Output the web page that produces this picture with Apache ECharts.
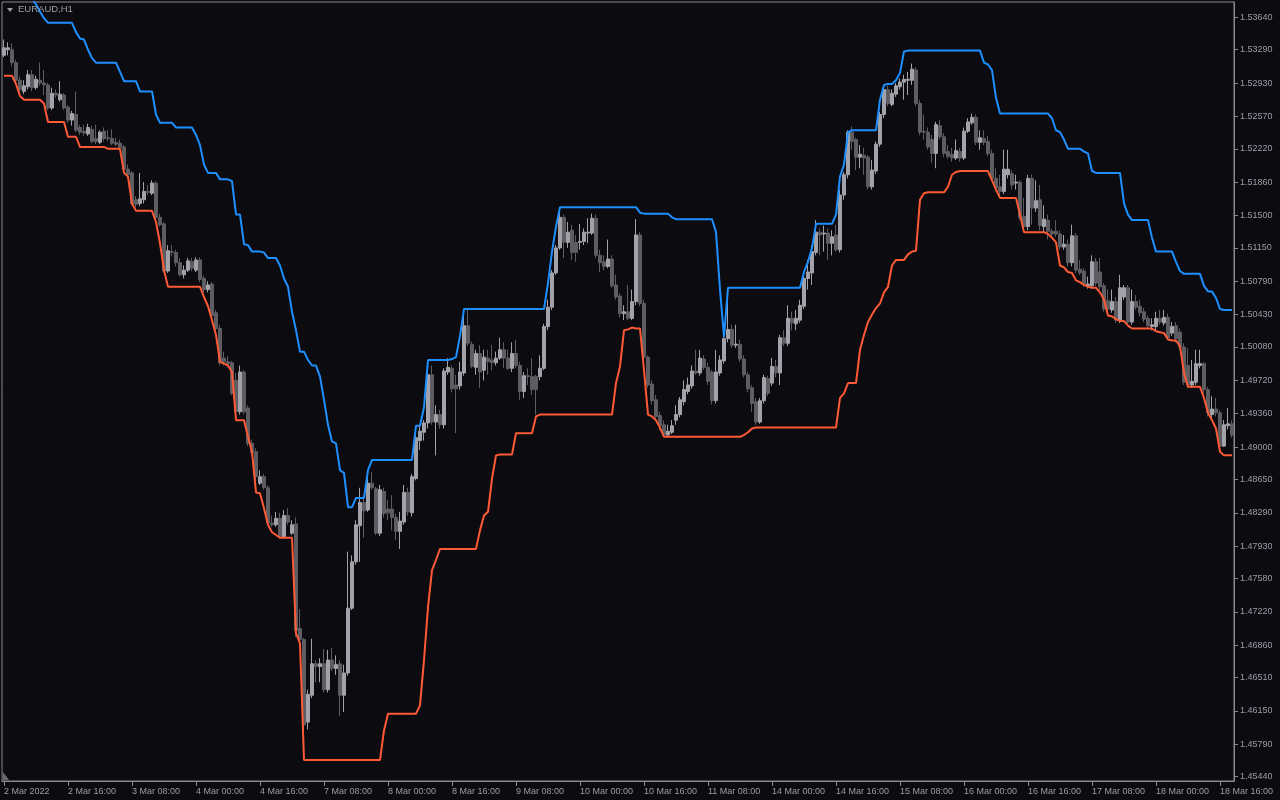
<!DOCTYPE html>
<html>
<head>
<meta charset="utf-8">
<script src="https://cdn.jsdelivr.net/npm/echarts@6/dist/echarts.min.js"></script>
<style>
html,body{margin:0;padding:0;background:#0b0b10;}
#chart{width:1280px;height:800px;}
</style>
</head>
<body>
<div id="chart"></div>
<script>
// ---- DATA ----
const symbolTitle = 'EURAUD,H1';

// x-axis tick labels, one every 16 hourly bars
const timeTickLabels = ['2 Mar 2022','2 Mar 16:00','3 Mar 08:00','4 Mar 00:00','4 Mar 16:00','7 Mar 08:00','8 Mar 00:00','8 Mar 16:00','9 Mar 08:00','10 Mar 00:00','10 Mar 16:00','11 Mar 08:00','14 Mar 00:00','14 Mar 16:00','15 Mar 08:00','16 Mar 00:00','16 Mar 16:00','17 Mar 08:00','18 Mar 00:00','18 Mar 16:00'];

// price-axis labels
const priceTicks = [1.45440,1.45790,1.46150,1.46510,1.46860,1.47220,1.47580,1.47930,1.48290,1.48650,1.49000,1.49360,1.49720,1.50080,1.50430,1.50790,1.51150,1.51500,1.51860,1.52220,1.52570,1.52930,1.53290,1.53640];

// H1 candles: [open, close, low, high]
const candles = [
[1.5323,1.5331,1.5321,1.5340],[1.5329,1.5331,1.5323,1.5337],[1.5329,1.5315,1.5311,1.5336],[1.5315,1.5296,1.5293,1.5318],[1.5296,1.5286,1.5280,1.5300],
[1.5284,1.5290,1.5281,1.5296],[1.5289,1.5302,1.5286,1.5307],[1.5302,1.5288,1.5284,1.5307],[1.5288,1.5297,1.5286,1.5301],[1.5296,1.5293,1.5290,1.5315],
[1.5293,1.5291,1.5280,1.5307],[1.5291,1.5266,1.5264,1.5293],[1.5266,1.5282,1.5264,1.5288],[1.5282,1.5280,1.5277,1.5286],[1.5275,1.5281,1.5273,1.5295],
[1.5280,1.5266,1.5264,1.5282],[1.5267,1.5253,1.5250,1.5269],[1.5253,1.5260,1.5247,1.5263],[1.5259,1.5242,1.5240,1.5284],[1.5245,1.5240,1.5237,1.5248],
[1.5241,1.5239,1.5236,1.5248],[1.5238,1.5245,1.5236,1.5249],[1.5243,1.5230,1.5228,1.5247],[1.5233,1.5230,1.5227,1.5248],[1.5229,1.5240,1.5227,1.5242],
[1.5241,1.5233,1.5230,1.5245],[1.5234,1.5233,1.5230,1.5242],[1.5233,1.5228,1.5226,1.5243],[1.5229,1.5227,1.5225,1.5234],[1.5228,1.5223,1.5222,1.5232],
[1.5224,1.5200,1.5198,1.5226],[1.5200,1.5194,1.5190,1.5205],[1.5196,1.5163,1.5161,1.5198],[1.5167,1.5162,1.5159,1.5171],[1.5163,1.5168,1.5160,1.5196],
[1.5167,1.5176,1.5163,1.5186],[1.5176,1.5175,1.5172,1.5183],[1.5174,1.5185,1.5172,1.5188],[1.5185,1.5148,1.5146,1.5187],[1.5148,1.5140,1.5138,1.5152],
[1.5141,1.5090,1.5088,1.5143],[1.5090,1.5112,1.5088,1.5118],[1.5111,1.5110,1.5106,1.5118],[1.5110,1.5099,1.5095,1.5113],[1.5099,1.5086,1.5084,1.5104],
[1.5086,1.5091,1.5082,1.5096],[1.5091,1.5101,1.5089,1.5104],[1.5100,1.5093,1.5090,1.5104],[1.5091,1.5102,1.5089,1.5105],[1.5102,1.5081,1.5078,1.5105],
[1.5082,1.5070,1.5067,1.5085],[1.5070,1.5075,1.5067,1.5079],[1.5076,1.5042,1.5040,1.5078],[1.5045,1.5028,1.5026,1.5048],[1.5028,1.4991,1.4988,1.5032],
[1.4996,1.4992,1.4988,1.5003],[1.4992,1.4990,1.4986,1.4998],[1.4991,1.4958,1.4956,1.4993],[1.4972,1.4938,1.4935,1.4980],[1.4938,1.4981,1.4935,1.4988],
[1.4981,1.4938,1.4935,1.4983],[1.4942,1.4904,1.4901,1.4945],[1.4904,1.4894,1.4890,1.4908],[1.4895,1.4868,1.4864,1.4899],[1.4861,1.4868,1.4859,1.4875],
[1.4868,1.4856,1.4854,1.4871],[1.4856,1.4818,1.4816,1.4859],[1.4818,1.4816,1.4814,1.4826],[1.4816,1.4823,1.4814,1.4830],[1.4823,1.4803,1.4801,1.4829],
[1.4803,1.4826,1.4801,1.4832],[1.4826,1.4819,1.4816,1.4834],[1.4807,1.4816,1.4805,1.4821],[1.4817,1.4702,1.4695,1.4824],[1.4704,1.4692,1.4689,1.4725],
[1.4692,1.4600,1.4595,1.4694],[1.4603,1.4633,1.4595,1.4638],[1.4632,1.4666,1.4629,1.4693],[1.4666,1.4663,1.4646,1.4670],[1.4663,1.4666,1.4646,1.4672],
[1.4666,1.4638,1.4635,1.4682],[1.4638,1.4670,1.4635,1.4681],[1.4670,1.4661,1.4658,1.4683],[1.4661,1.4665,1.4654,1.4675],[1.4666,1.4632,1.4610,1.4670],
[1.4632,1.4656,1.4614,1.4665],[1.4656,1.4726,1.4653,1.4787],[1.4726,1.4776,1.4724,1.4783],[1.4776,1.4816,1.4773,1.4821],[1.4815,1.4840,1.4776,1.4856],
[1.4840,1.4831,1.4802,1.4848],[1.4832,1.4861,1.4830,1.4875],[1.4861,1.4856,1.4854,1.4873],[1.4855,1.4807,1.4805,1.4857],[1.4807,1.4854,1.4804,1.4859],
[1.4852,1.4828,1.4824,1.4856],[1.4833,1.4829,1.4821,1.4843],[1.4833,1.4824,1.4810,1.4848],[1.4824,1.4809,1.4800,1.4828],[1.4809,1.4820,1.4790,1.4830],
[1.4819,1.4851,1.4816,1.4859],[1.4851,1.4830,1.4826,1.4856],[1.4829,1.4868,1.4825,1.4871],[1.4866,1.4910,1.4864,1.4913],[1.4907,1.4917,1.4897,1.4924],
[1.4916,1.4926,1.4907,1.4929],[1.4926,1.4978,1.4920,1.4981],[1.4978,1.4927,1.4924,1.4988],[1.4927,1.4935,1.4891,1.4945],[1.4935,1.4924,1.4920,1.4940],
[1.4924,1.4982,1.4920,1.4985],[1.4981,1.4986,1.4978,1.4996],[1.4985,1.4963,1.4959,1.4988],[1.4967,1.4963,1.4915,1.4978],[1.4966,1.4981,1.4962,1.4992],
[1.4980,1.5031,1.4977,1.5047],[1.5031,1.5012,1.5009,1.5048],[1.5011,1.4987,1.4985,1.5014],[1.4986,1.5001,1.4978,1.5005],[1.5001,1.4981,1.4964,1.5010],
[1.4983,1.4997,1.4972,1.5005],[1.4996,1.4992,1.4978,1.5005],[1.4994,1.4991,1.4983,1.5010],[1.4991,1.4996,1.4988,1.5003],[1.4996,1.5005,1.4994,1.5018],
[1.5005,1.4996,1.4985,1.5013],[1.4996,1.4985,1.4983,1.5005],[1.4985,1.5001,1.4981,1.5013],[1.5001,1.4988,1.4985,1.5016],[1.4988,1.4960,1.4951,1.4992],
[1.4960,1.4977,1.4953,1.4981],[1.4977,1.4976,1.4967,1.4985],[1.4976,1.4962,1.4956,1.4996],[1.4976,1.4962,1.4935,1.4978],[1.4976,1.4985,1.4972,1.4999],
[1.4985,1.5030,1.4983,1.5033],[1.5030,1.5051,1.5026,1.5059],[1.5051,1.5088,1.5048,1.5091],[1.5088,1.5115,1.5086,1.5118],[1.5115,1.5148,1.5113,1.5154],
[1.5148,1.5121,1.5104,1.5151],[1.5121,1.5132,1.5115,1.5143],[1.5134,1.5110,1.5102,1.5140],[1.5121,1.5110,1.5100,1.5129],[1.5121,1.5122,1.5113,1.5141],
[1.5122,1.5132,1.5118,1.5136],[1.5131,1.5132,1.5120,1.5147],[1.5131,1.5147,1.5129,1.5152],[1.5147,1.5107,1.5104,1.5151],[1.5107,1.5099,1.5089,1.5113],
[1.5100,1.5095,1.5091,1.5107],[1.5095,1.5103,1.5093,1.5124],[1.5103,1.5074,1.5072,1.5107],[1.5075,1.5062,1.5059,1.5086],[1.5063,1.5044,1.5040,1.5066],
[1.5044,1.5046,1.5037,1.5053],[1.5046,1.5039,1.5037,1.5075],[1.5039,1.5057,1.5037,1.5070],[1.5057,1.5129,1.5053,1.5146],[1.5129,1.5055,1.5052,1.5132],
[1.5055,1.4997,1.4994,1.5059],[1.4997,1.4967,1.4964,1.4999],[1.4968,1.4950,1.4946,1.4972],[1.4951,1.4933,1.4931,1.4956],[1.4934,1.4923,1.4918,1.4938],
[1.4924,1.4913,1.4911,1.4929],[1.4913,1.4917,1.4911,1.4924],[1.4916,1.4923,1.4914,1.4929],[1.4929,1.4935,1.4924,1.4945],[1.4935,1.4951,1.4932,1.4954],
[1.4949,1.4962,1.4945,1.4972],[1.4960,1.4967,1.4957,1.4975],[1.4966,1.4982,1.4963,1.4988],[1.4982,1.4980,1.4978,1.5005],[1.4980,1.4996,1.4977,1.5005],
[1.4995,1.4986,1.4983,1.4999],[1.4986,1.4971,1.4967,1.4991],[1.4981,1.4950,1.4946,1.4983],[1.4950,1.4981,1.4947,1.5005],[1.4980,1.4994,1.4977,1.4999],
[1.4993,1.5017,1.4990,1.5019],[1.5017,1.5027,1.5013,1.5061],[1.5027,1.5010,1.5007,1.5032],[1.5010,1.5011,1.5007,1.5032],[1.5011,1.4995,1.4992,1.5016],
[1.4995,1.4978,1.4975,1.4999],[1.4978,1.4963,1.4959,1.4981],[1.4964,1.4947,1.4938,1.4967],[1.4949,1.4927,1.4924,1.4953],[1.4927,1.4950,1.4925,1.4953],
[1.4950,1.4975,1.4947,1.4978],[1.4974,1.4958,1.4955,1.4977],[1.4969,1.4987,1.4966,1.4996],[1.4987,1.4980,1.4975,1.4994],[1.4980,1.5018,1.4967,1.5021],
[1.5018,1.5012,1.5009,1.5026],[1.5012,1.5039,1.5009,1.5053],[1.5039,1.5034,1.5026,1.5046],[1.5033,1.5039,1.5026,1.5048],[1.5037,1.5053,1.5034,1.5059],
[1.5052,1.5082,1.5049,1.5086],[1.5082,1.5089,1.5070,1.5102],[1.5088,1.5111,1.5075,1.5118],[1.5110,1.5132,1.5107,1.5145],[1.5132,1.5129,1.5107,1.5136],
[1.5130,1.5131,1.5111,1.5139],[1.5131,1.5120,1.5102,1.5136],[1.5120,1.5127,1.5107,1.5134],[1.5129,1.5113,1.5111,1.5140],[1.5113,1.5172,1.5110,1.5178],
[1.5172,1.5194,1.5167,1.5197],[1.5194,1.5240,1.5190,1.5242],[1.5240,1.5230,1.5221,1.5246],[1.5232,1.5213,1.5199,1.5234],[1.5213,1.5216,1.5201,1.5226],
[1.5215,1.5212,1.5194,1.5223],[1.5213,1.5181,1.5178,1.5215],[1.5181,1.5199,1.5178,1.5210],[1.5198,1.5227,1.5195,1.5230],[1.5227,1.5259,1.5224,1.5262],
[1.5259,1.5286,1.5255,1.5289],[1.5286,1.5271,1.5268,1.5290],[1.5270,1.5282,1.5268,1.5286],[1.5281,1.5290,1.5278,1.5293],[1.5289,1.5294,1.5286,1.5298],
[1.5294,1.5297,1.5275,1.5302],[1.5296,1.5297,1.5280,1.5305],[1.5296,1.5308,1.5291,1.5314],[1.5307,1.5271,1.5268,1.5310],[1.5271,1.5240,1.5237,1.5275],
[1.5241,1.5240,1.5232,1.5259],[1.5240,1.5224,1.5221,1.5245],[1.5232,1.5217,1.5207,1.5237],[1.5217,1.5248,1.5201,1.5251],[1.5247,1.5235,1.5232,1.5253],
[1.5235,1.5217,1.5213,1.5239],[1.5219,1.5214,1.5211,1.5226],[1.5216,1.5212,1.5208,1.5223],[1.5212,1.5220,1.5210,1.5232],[1.5219,1.5212,1.5208,1.5223],
[1.5212,1.5241,1.5210,1.5245],[1.5241,1.5251,1.5239,1.5255],[1.5250,1.5256,1.5248,1.5260],[1.5256,1.5229,1.5226,1.5259],[1.5229,1.5234,1.5221,1.5242],
[1.5233,1.5229,1.5226,1.5242],[1.5230,1.5217,1.5214,1.5236],[1.5217,1.5190,1.5188,1.5221],[1.5190,1.5180,1.5176,1.5201],[1.5181,1.5176,1.5169,1.5194],
[1.5176,1.5200,1.5173,1.5221],[1.5194,1.5200,1.5190,1.5221],[1.5195,1.5183,1.5178,1.5199],[1.5185,1.5186,1.5178,1.5194],[1.5186,1.5148,1.5145,1.5188],
[1.5149,1.5138,1.5134,1.5169],[1.5138,1.5190,1.5134,1.5194],[1.5190,1.5158,1.5140,1.5194],[1.5158,1.5166,1.5154,1.5188],[1.5167,1.5139,1.5134,1.5183],
[1.5138,1.5146,1.5132,1.5161],[1.5145,1.5133,1.5124,1.5151],[1.5133,1.5130,1.5127,1.5136],[1.5133,1.5130,1.5127,1.5145],[1.5130,1.5116,1.5113,1.5134],
[1.5116,1.5119,1.5113,1.5129],[1.5119,1.5099,1.5095,1.5124],[1.5099,1.5128,1.5095,1.5140],[1.5128,1.5091,1.5088,1.5131],[1.5092,1.5088,1.5086,1.5102],
[1.5090,1.5076,1.5073,1.5093],[1.5074,1.5076,1.5071,1.5084],[1.5074,1.5100,1.5071,1.5107],[1.5100,1.5077,1.5074,1.5104],[1.5089,1.5073,1.5070,1.5104],
[1.5074,1.5049,1.5046,1.5077],[1.5058,1.5049,1.5046,1.5070],[1.5048,1.5057,1.5045,1.5070],[1.5057,1.5037,1.5034,1.5062],[1.5037,1.5072,1.5034,1.5086],
[1.5062,1.5072,1.5059,1.5075],[1.5072,1.5035,1.5032,1.5075],[1.5035,1.5057,1.5032,1.5070],[1.5057,1.5051,1.5048,1.5064],[1.5052,1.5045,1.5041,1.5059],
[1.5046,1.5038,1.5035,1.5050],[1.5039,1.5031,1.5028,1.5042],[1.5030,1.5032,1.5026,1.5039],[1.5030,1.5039,1.5026,1.5046],[1.5039,1.5035,1.5032,1.5048],
[1.5034,1.5040,1.5031,1.5048],[1.5040,1.5018,1.5016,1.5044],[1.5023,1.5030,1.5020,1.5035],[1.5031,1.5017,1.5013,1.5035],[1.5024,1.5008,1.5005,1.5028],
[1.5008,1.4970,1.4967,1.5012],[1.4988,1.4967,1.4964,1.5007],[1.4967,1.4971,1.4964,1.4994],[1.4970,1.4990,1.4967,1.5005],[1.4988,1.4990,1.4985,1.5005],
[1.4990,1.4962,1.4958,1.4992],[1.4962,1.4937,1.4933,1.4965],[1.4935,1.4941,1.4931,1.4955],[1.4941,1.4937,1.4933,1.4953],[1.4937,1.4901,1.4899,1.4940],
[1.4901,1.4924,1.4900,1.4929],[1.4923,1.4925,1.4919,1.4942],[1.4925,1.4913,1.4910,1.4929]
];

// upper channel line (blue)
const upperBand = [
1.5402,1.5399,1.5396,1.5394,1.5391,1.5389,1.5387,1.5384,1.5378,1.5370,
1.5363,1.5358,1.5358,1.5358,1.5358,1.5358,1.5358,1.5358,1.5348,1.5341,
1.5340,1.5329,1.5320,1.5315,1.5315,1.5315,1.5315,1.5315,1.5315,1.5305,
1.5295,1.5295,1.5295,1.5295,1.5284,1.5284,1.5284,1.5284,1.5259,1.5250,
1.5250,1.5250,1.5250,1.5245,1.5245,1.5245,1.5245,1.5245,1.5237,1.5226,
1.5205,1.5196,1.5196,1.5196,1.5189,1.5189,1.5189,1.5187,1.5151,1.5151,
1.5119,1.5118,1.5111,1.5111,1.5111,1.5110,1.5104,1.5104,1.5104,1.5096,
1.5082,1.5073,1.5046,1.5026,1.5003,1.5003,1.4994,1.4988,1.4988,1.4976,
1.4951,1.4924,1.4906,1.4904,1.4875,1.4872,1.4835,1.4835,1.4845,1.4845,
1.4845,1.4875,1.4886,1.4886,1.4886,1.4886,1.4886,1.4886,1.4886,1.4886,
1.4886,1.4886,1.4886,1.4923,1.4923,1.4943,1.4994,1.4994,1.4994,1.4994,
1.4994,1.4994,1.4995,1.4997,1.5020,1.5049,1.5049,1.5049,1.5049,1.5049,
1.5049,1.5049,1.5049,1.5049,1.5049,1.5049,1.5049,1.5049,1.5049,1.5049,
1.5049,1.5049,1.5049,1.5049,1.5049,1.5049,1.5077,1.5111,1.5138,1.5159,
1.5159,1.5159,1.5159,1.5159,1.5159,1.5159,1.5159,1.5159,1.5159,1.5159,
1.5159,1.5159,1.5159,1.5159,1.5159,1.5159,1.5159,1.5159,1.5159,1.5153,
1.5152,1.5152,1.5152,1.5152,1.5152,1.5152,1.5152,1.5148,1.5146,1.5146,
1.5146,1.5146,1.5146,1.5146,1.5146,1.5146,1.5146,1.5146,1.5132,1.5070,
1.5019,1.5072,1.5072,1.5072,1.5072,1.5072,1.5072,1.5072,1.5072,1.5072,
1.5072,1.5072,1.5072,1.5072,1.5072,1.5072,1.5072,1.5072,1.5072,1.5072,
1.5089,1.5100,1.5115,1.5141,1.5141,1.5141,1.5141,1.5141,1.5151,1.5192,
1.5205,1.5240,1.5242,1.5242,1.5242,1.5242,1.5242,1.5242,1.5242,1.5275,
1.5291,1.5292,1.5292,1.5296,1.5304,1.5327,1.5328,1.5328,1.5328,1.5328,
1.5328,1.5328,1.5328,1.5328,1.5328,1.5328,1.5328,1.5328,1.5328,1.5328,
1.5328,1.5328,1.5328,1.5328,1.5328,1.5315,1.5313,1.5307,1.5277,1.5260,
1.5260,1.5260,1.5260,1.5260,1.5260,1.5260,1.5260,1.5260,1.5260,1.5260,
1.5260,1.5260,1.5255,1.5242,1.5240,1.5232,1.5222,1.5222,1.5222,1.5222,
1.5219,1.5217,1.5198,1.5196,1.5196,1.5196,1.5196,1.5196,1.5196,1.5196,
1.5163,1.5151,1.5145,1.5145,1.5145,1.5145,1.5145,1.5126,1.5111,1.5111,
1.5111,1.5111,1.5111,1.5100,1.5090,1.5087,1.5087,1.5087,1.5087,1.5087,
1.5074,1.5068,1.5068,1.5061,1.5049,1.5048,1.5048,1.5048
];

// lower channel line (red)
const lowerBand = [
1.5301,1.5301,1.5301,1.5292,1.5279,1.5275,1.5275,1.5275,1.5275,1.5275,
1.5271,1.5251,1.5251,1.5251,1.5251,1.5251,1.5235,1.5235,1.5235,1.5224,
1.5224,1.5224,1.5224,1.5224,1.5224,1.5224,1.5222,1.5222,1.5222,1.5222,
1.5196,1.5192,1.5163,1.5155,1.5155,1.5155,1.5155,1.5155,1.5143,1.5120,
1.5091,1.5073,1.5073,1.5073,1.5073,1.5073,1.5073,1.5073,1.5073,1.5073,
1.5062,1.5052,1.5037,1.5021,1.4992,1.4990,1.4988,1.4981,1.4929,1.4929,
1.4929,1.4911,1.4895,1.4851,1.4850,1.4834,1.4816,1.4808,1.4805,1.4802,
1.4802,1.4802,1.4802,1.4699,1.4688,1.4562,1.4562,1.4562,1.4562,1.4562,
1.4562,1.4562,1.4562,1.4562,1.4562,1.4562,1.4562,1.4562,1.4562,1.4562,
1.4562,1.4562,1.4562,1.4562,1.4562,1.4594,1.4612,1.4612,1.4612,1.4612,
1.4612,1.4612,1.4612,1.4612,1.4621,1.4670,1.4727,1.4767,1.4778,1.4790,
1.4790,1.4790,1.4790,1.4790,1.4790,1.4790,1.4790,1.4790,1.4790,1.4810,
1.4826,1.4830,1.4866,1.4891,1.4892,1.4892,1.4892,1.4892,1.4915,1.4915,
1.4915,1.4915,1.4915,1.4933,1.4935,1.4935,1.4935,1.4935,1.4935,1.4935,
1.4935,1.4935,1.4935,1.4935,1.4935,1.4935,1.4935,1.4935,1.4935,1.4935,
1.4935,1.4935,1.4935,1.4969,1.4987,1.5026,1.5027,1.5029,1.5028,1.5028,
1.4983,1.4935,1.4933,1.4929,1.4921,1.4911,1.4911,1.4911,1.4911,1.4911,
1.4911,1.4911,1.4911,1.4911,1.4911,1.4911,1.4911,1.4911,1.4911,1.4911,
1.4911,1.4911,1.4911,1.4911,1.4911,1.4913,1.4916,1.4920,1.4921,1.4921,
1.4921,1.4921,1.4921,1.4921,1.4921,1.4921,1.4921,1.4921,1.4921,1.4921,
1.4921,1.4921,1.4921,1.4921,1.4921,1.4921,1.4921,1.4921,1.4921,1.4953,
1.4958,1.4969,1.4969,1.4969,1.5005,1.5021,1.5035,1.5043,1.5050,1.5055,
1.5067,1.5073,1.5096,1.5102,1.5102,1.5102,1.5108,1.5111,1.5112,1.5167,
1.5174,1.5175,1.5175,1.5175,1.5175,1.5175,1.5181,1.5194,1.5197,1.5198,
1.5198,1.5198,1.5198,1.5198,1.5198,1.5198,1.5198,1.5188,1.5178,1.5169,
1.5169,1.5169,1.5169,1.5169,1.5151,1.5132,1.5132,1.5132,1.5132,1.5132,
1.5132,1.5130,1.5126,1.5121,1.5096,1.5094,1.5089,1.5088,1.5080,1.5078,
1.5075,1.5073,1.5072,1.5072,1.5067,1.5059,1.5042,1.5041,1.5038,1.5036,
1.5036,1.5031,1.5028,1.5028,1.5028,1.5028,1.5028,1.5028,1.5025,1.5024,
1.5023,1.5016,1.5015,1.5015,1.5009,1.4980,1.4965,1.4965,1.4965,1.4965,
1.4953,1.4937,1.4929,1.4920,1.4895,1.4891,1.4891,1.4891
];

// ---- CHART ----
const BARS_PER_LABEL = 16;
const barIndex = candles.map((_, i) => i);
const textColor = '#9a9ea8';
const frameColor = '#8a8a90';

const chart = echarts.init(document.getElementById('chart'), null, {renderer: 'canvas'});
chart.setOption({
  animation: false,
  backgroundColor: '#0b0b10',
  textStyle: {fontFamily: 'Liberation Sans, Arial, sans-serif'},
  grid: {left: 2, right: 46, top: 2, bottom: 19, show: true, borderColor: frameColor, borderWidth: 1},
  xAxis: {
    type: 'category',
    data: barIndex,
    boundaryGap: true,
    axisLine: {show: true, lineStyle: {color: frameColor}},
    axisTick: {show: true, alignWithLabel: true, length: 5, lineStyle: {color: frameColor},
      interval: (idx) => idx % BARS_PER_LABEL === 0},
    axisLabel: {
      show: true, color: textColor, fontSize: 9, align: 'left', margin: 6,
      interval: (idx) => idx % BARS_PER_LABEL === 0,
      formatter: (v, idx) => timeTickLabels[idx / BARS_PER_LABEL] || ''
    },
    splitLine: {show: false}
  },
  yAxis: {
    type: 'value',
    position: 'right',
    min: 1.45394,
    max: 1.53805,
    scale: true,
    axisLine: {show: true, lineStyle: {color: frameColor}},
    axisTick: {show: true, length: 4, lineStyle: {color: frameColor}, customValues: priceTicks},
    axisLabel: {show: true, color: textColor, fontSize: 9, margin: 6, customValues: priceTicks,
      formatter: (v) => v.toFixed(5)},
    splitLine: {show: false}
  },
  series: [
    {
      type: 'candlestick',
      data: candles,
      barWidth: 3,
      itemStyle: {
        color: '#a2a2aa', color0: '#5d5d62',
        borderColor: '#a2a2aa', borderColor0: '#5d5d62', borderWidth: 1
      },
      z: 2
    },
    {
      type: 'line', data: upperBand, showSymbol: false, symbol: 'none', clip: true,
      lineStyle: {color: '#1e8fff', width: 2}, z: 3
    },
    {
      type: 'line', data: lowerBand, showSymbol: false, symbol: 'none', clip: true,
      lineStyle: {color: '#ff5a36', width: 2}, z: 3
    }
  ],
  graphic: [
    {type: 'polygon', shape: {points: [[7, 8], [13, 8], [10, 12]]}, style: {fill: '#9a9ea8'}, z: 10},
    {type: 'text', left: 18, top: 4, style: {text: symbolTitle, fill: '#9a9ea8', font: '9.5px "Liberation Sans", Arial, sans-serif'}, z: 10},
    {type: 'polygon', shape: {points: [[3, 772], [3, 780], [9, 780]]}, style: {fill: '#6a6a70'}, z: 10}
  ]
});
</script>
</body>
</html>
